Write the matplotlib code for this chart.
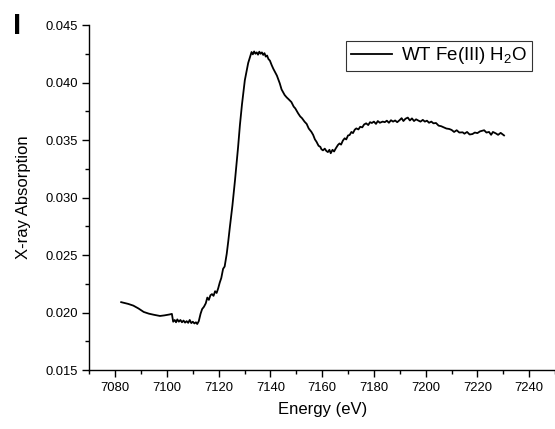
import matplotlib
matplotlib.use("Agg")
import matplotlib.pyplot as plt
from matplotlib.ticker import MultipleLocator

plt.rcParams['font.family'] = ['Liberation Sans', 'DejaVu Sans']
plt.rcParams['mathtext.fontset'] = 'custom'
plt.rcParams['mathtext.rm'] = 'Liberation Sans'

# XANES spectrum, values
energy = [
    7082.3, 7085, 7087, 7089, 7091, 7093, 7095, 7097.3, 7099, 7101, 7101.9,
    7102.4, 7103, 7103.5, 7104, 7104.6, 7105.2, 7105.8, 7106.4, 7107, 7107.6,
    7108.2, 7108.8, 7109.4, 7110, 7110.6, 7111.2, 7111.7, 7112.3, 7113, 7113.6,
    7114.3, 7115, 7115.6, 7116.2, 7116.8, 7117.4, 7118, 7118.6, 7119.2, 7119.8,
    7120.4, 7121, 7121.7, 7122.3, 7123.1, 7123.7, 7124.3, 7125.3, 7126.3, 7127.5,
    7128.2, 7129, 7130.1, 7131.4, 7132.2, 7132.7, 7133.2, 7133.7, 7134.2, 7134.7,
    7135.2, 7135.7, 7136.2, 7136.7, 7137.2, 7137.7, 7138.2, 7138.7, 7139.2, 7139.8,
    7140.5, 7141.1, 7141.7, 7142.5, 7143.6, 7144.3, 7145.5, 7146.3, 7147, 7148.1,
    7149, 7149.6, 7150.7, 7151.5, 7152.2, 7153.2, 7154, 7154.8, 7155.8, 7156.5,
    7157.2, 7157.8, 7158.6, 7159.3, 7159.7, 7160.3, 7161, 7161.6, 7162.2, 7162.8,
    7163.3, 7164, 7164.6, 7165.2, 7166.1, 7166.7, 7167.3, 7168, 7168.7, 7169.3,
    7170, 7170.6, 7171.3, 7171.9, 7172.6, 7173.2, 7174, 7174.7, 7175.5, 7176.2,
    7177, 7177.8, 7178.5, 7179.2, 7180, 7180.8, 7181.5, 7182.3, 7183.4, 7184.2,
    7185, 7185.8, 7186.6, 7187.4, 7188.2, 7189, 7189.9, 7190.7, 7191.4, 7192.2,
    7193.1, 7193.9, 7194.7, 7195.5, 7196.3, 7197.1, 7198, 7198.9, 7199.7, 7200.5,
    7201.3, 7202.2, 7203, 7204, 7205, 7206, 7207, 7208, 7209.1, 7210,
    7211, 7212, 7213, 7214.3, 7215, 7216, 7217, 7218.1, 7219, 7220,
    7221, 7222.6, 7223.5, 7224.5, 7225.3, 7226, 7227.1, 7228, 7229, 7230.3,
]
absorption = [
    0.02090, 0.02075, 0.02060, 0.02035, 0.02005, 0.01990, 0.01980, 0.01970, 0.01975, 0.01983, 0.01988,
    0.01920, 0.01935, 0.01915, 0.01940, 0.01920, 0.01935, 0.01915, 0.01930, 0.01912, 0.01925,
    0.01910, 0.01935, 0.01908, 0.01920, 0.01905, 0.01915, 0.01900, 0.01925, 0.01990, 0.02030,
    0.02050, 0.02080, 0.02130, 0.02110, 0.02150, 0.02160, 0.02145, 0.02185, 0.02170, 0.02210,
    0.02260, 0.02300, 0.02380, 0.02400, 0.02510, 0.02620, 0.02740, 0.02930, 0.03150, 0.03440,
    0.03630, 0.03810, 0.04020, 0.04170, 0.04230, 0.04265, 0.04245, 0.04270, 0.04250, 0.04262,
    0.04242, 0.04268, 0.04250, 0.04262, 0.04240, 0.04255, 0.04225, 0.04235, 0.04205, 0.04190,
    0.04150, 0.04120, 0.04094, 0.04060, 0.03993, 0.03940, 0.03891, 0.03870, 0.03855, 0.03830,
    0.03790, 0.03775, 0.03732, 0.03705, 0.03690, 0.03659, 0.03640, 0.03600, 0.03572, 0.03545,
    0.03505, 0.03485, 0.03450, 0.03440, 0.03420, 0.03410, 0.03425, 0.03405, 0.03395, 0.03415,
    0.03385, 0.03415, 0.03400, 0.03425, 0.03457, 0.03470, 0.03460, 0.03495, 0.03515, 0.03505,
    0.03540, 0.03543, 0.03570, 0.03560, 0.03590, 0.03601, 0.03592, 0.03615, 0.03610, 0.03635,
    0.03645, 0.03630, 0.03655, 0.03648, 0.03660, 0.03640, 0.03665, 0.03650, 0.03660, 0.03655,
    0.03668, 0.03650, 0.03672, 0.03660, 0.03670, 0.03655, 0.03672, 0.03690, 0.03665, 0.03685,
    0.03695, 0.03670, 0.03688, 0.03665, 0.03680, 0.03670, 0.03660, 0.03675, 0.03660, 0.03668,
    0.03650, 0.03660, 0.03645, 0.03648, 0.03625, 0.03620, 0.03610, 0.03600, 0.03596, 0.03588,
    0.03570, 0.03585, 0.03565, 0.03567, 0.03555, 0.03570, 0.03548, 0.03552, 0.03565, 0.03560,
    0.03575, 0.03585, 0.03565, 0.03570, 0.03545, 0.03570, 0.03558, 0.03545, 0.03562, 0.03540,
]

fig = plt.figure(figsize=(5.55, 4.29), dpi=100)
ax = fig.add_axes([0.161, 0.1375, 0.839, 0.8042])

ax.plot(energy, absorption, color='black', linewidth=1.3,
        label=r'WT Fe(III) H$_\mathregular{2}$O')

ax.set_xlim(7070, 7250)
ax.set_ylim(0.015, 0.045)
ax.set_xticks(range(7080, 7241, 20))
ax.xaxis.set_minor_locator(MultipleLocator(10))
ax.yaxis.set_major_locator(MultipleLocator(0.005))
ax.yaxis.set_minor_locator(MultipleLocator(0.0025))
ax.yaxis.set_major_formatter(plt.FormatStrFormatter('%.3f'))

for s in ['top', 'right']:
    ax.spines[s].set_visible(False)
ax.spines['left'].set_linewidth(1.0)
ax.spines['bottom'].set_linewidth(1.0)
ax.tick_params(which='major', direction='out', length=5, width=1, labelsize=9.4)
ax.tick_params(which='minor', direction='out', length=3, width=1)

ax.set_xlabel('Energy (eV)', fontsize=12, labelpad=6)
ax.set_ylabel('X-ray Absorption', fontsize=12, labelpad=10)

leg = ax.legend(loc='upper right', bbox_to_anchor=(0.951, 0.9545), borderaxespad=0,
                fontsize=13.5, frameon=True, fancybox=False, handlelength=2.2,
                borderpad=0.25, handletextpad=0.5)
leg.get_frame().set_edgecolor('black')
leg.get_frame().set_linewidth(0.8)

fig.text(0.031, 0.972, 'I', fontsize=21, fontweight='bold', va='top', ha='center')

fig.savefig('out.png', dpi=100)
